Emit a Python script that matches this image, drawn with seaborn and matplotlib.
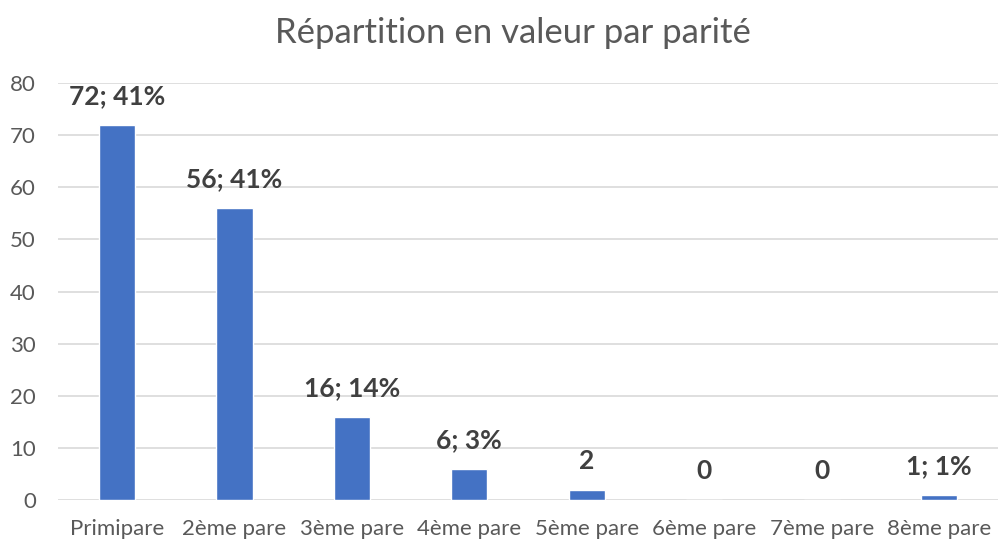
import matplotlib
matplotlib.use('Agg')
import matplotlib.pyplot as plt
import seaborn as sns
import pandas as pd

categories = ['Primipare', '2ème pare', '3ème pare', '4ème pare', '5ème pare',
              '6ème pare', '7ème pare', '8ème pare']
values = [72, 56, 16, 6, 2, 0, 0, 1]
labels = ['72; 41%', '56; 41%', '16; 14%', '6; 3%', '2', '0', '0', '1; 1%']

df = pd.DataFrame({'parite': categories, 'valeur': values})

sns.set_style('white')
plt.rcParams['font.family'] = ['Lato', 'DejaVu Sans']

fig = plt.figure(figsize=(10.01, 5.47), dpi=100)
ax = fig.add_axes([0.058, 0.086, 0.939, 0.762])
sns.barplot(data=df, x='parite', y='valeur', color='#4472c4', width=0.31,
            saturation=1, ax=ax, zorder=3)

for i, (v, lab) in enumerate(zip(values, labels)):
    ax.annotate(lab, (i, v), xytext=(0, 12), textcoords='offset points',
                ha='center', va='bottom', fontsize=19, fontweight='bold',
                color='#404040')

ax.set_ylim(0, 80)
ax.set_yticks(range(0, 81, 10))
ax.set_xlim(-0.5, len(categories) - 0.5)
ax.yaxis.grid(True, color='#d9d9d9', linewidth=1.2, zorder=0)
ax.set_axisbelow(True)
for s in ax.spines.values():
    s.set_visible(False)
ax.tick_params(axis='both', length=0, labelsize=16, colors='#595959')
ax.tick_params(axis='x', pad=14)
ax.tick_params(axis='y', pad=16)
ax.set_xlabel('')
ax.set_ylabel('')
fig.text(0.512, 0.94, 'Répartition en valeur par parité', ha='center', va='center',
         fontsize=25, color='#595959')

fig.savefig('out.png', dpi=100)
